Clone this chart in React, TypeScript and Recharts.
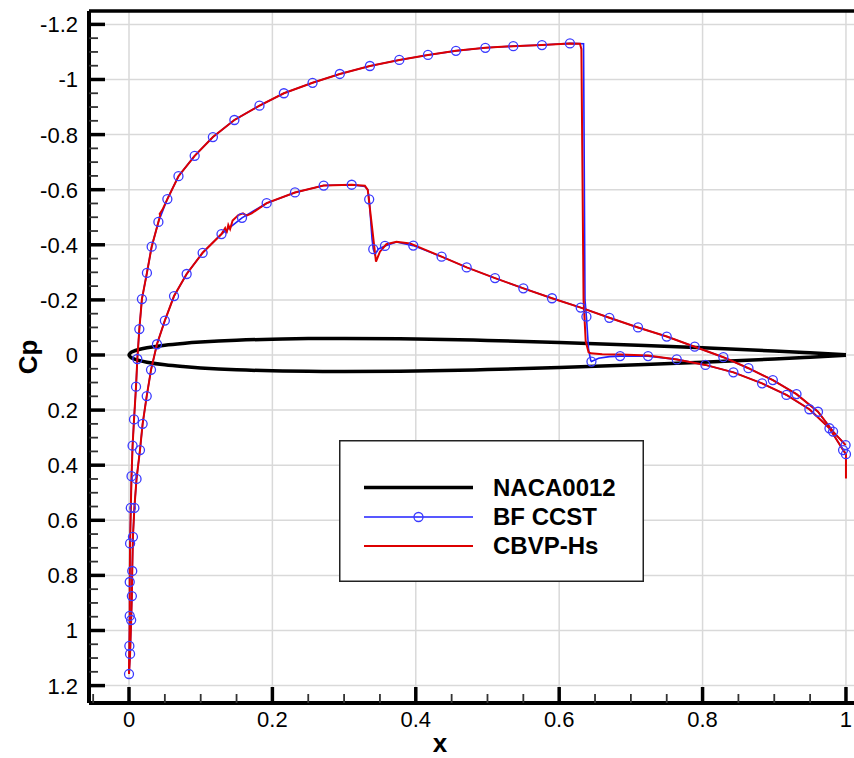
import { ComposedChart, Line, ReferenceLine, XAxis, YAxis } from "recharts";

// axis ranges
const X_DOMAIN: [number, number] = [-0.0558, 1.014];
const Y_DOMAIN: [number, number] = [-1.2486, 1.2632];

const xMajorTicks = [0, 0.2, 0.4, 0.6, 0.8, 1];
const xMinorTicks = [-0.05, 0.05, 0.1, 0.15, 0.25, 0.3, 0.35, 0.45, 0.5, 0.55, 0.65, 0.7, 0.75, 0.85, 0.9, 0.95];
const yMajorTicks = [-1.2, -1, -0.8, -0.6, -0.4, -0.2, 0, 0.2, 0.4, 0.6, 0.8, 1, 1.2];
const yMinorTicks = [
  -1.15, -1.1, -1.05, -0.95, -0.9, -0.85, -0.75, -0.7, -0.65, -0.55, -0.5, -0.45, -0.35, -0.3, -0.25, -0.15, -0.1,
  -0.05, 0.05, 0.1, 0.15, 0.25, 0.3, 0.35, 0.45, 0.5, 0.55, 0.65, 0.7, 0.75, 0.85, 0.9, 0.95, 1.05, 1.1, 1.15,
];

// NACA0012 contour (chord x, half thickness)
const nacaX = [0, 0.0025, 0.005, 0.0125, 0.025, 0.05, 0.075, 0.1, 0.15, 0.2, 0.25, 0.3, 0.4, 0.5, 0.6, 0.7, 0.8, 0.9, 0.95, 1];
const nacaHalf = [
  0, 0.0087, 0.0122, 0.0189, 0.0262, 0.0356, 0.042, 0.0468, 0.0535, 0.0574, 0.0594, 0.06, 0.058, 0.0529, 0.0456, 0.0366,
  0.0262, 0.0145, 0.0081, 0.0013,
];

// BF CCST, suction side (strong shock near x=0.63)
const ccstUpper: [number, number][] = [
  [0, 1.158], [0.0005, 1.056], [0.001, 0.947], [0.001, 0.824], [0.0015, 0.684], [0.0025, 0.555], [0.0035, 0.44],
  [0.005, 0.329], [0.007, 0.234], [0.0098, 0.115], [0.0116, 0.0145], [0.0144, -0.094], [0.018, -0.203],
  [0.025, -0.298], [0.0316, -0.393], [0.041, -0.483], [0.0535, -0.566], [0.069, -0.649], [0.0916, -0.723],
  [0.117, -0.791], [0.147, -0.853], [0.182, -0.905], [0.216, -0.95], [0.256, -0.988], [0.294, -1.02],
  [0.336, -1.049], [0.377, -1.071], [0.417, -1.089], [0.456, -1.104], [0.497, -1.115], [0.536, -1.121],
  [0.576, -1.125], [0.615, -1.131], [0.634, -1.13], [0.636, -0.2], [0.638, -0.139], [0.641, -0.02], [0.644, 0.02],
  [0.645, 0.024], [0.655, 0.012], [0.67, 0.006], [0.685, 0.004], [0.724, 0.004], [0.764, 0.016], [0.804, 0.036],
  [0.843, 0.063], [0.883, 0.103], [0.917, 0.145], [0.949, 0.197], [0.977, 0.266], [0.996, 0.345], [1, 0.36],
];
const ccstUpperMarks: [number, number][] = [
  [0, 1.158], [0.0005, 1.056], [0.001, 0.947], [0.001, 0.824], [0.0015, 0.684], [0.0025, 0.555], [0.0035, 0.44],
  [0.005, 0.329], [0.007, 0.234], [0.0098, 0.115], [0.0116, 0.0145], [0.0144, -0.094], [0.018, -0.203],
  [0.025, -0.298], [0.0316, -0.393], [0.041, -0.483], [0.0535, -0.566], [0.069, -0.649], [0.0916, -0.723],
  [0.117, -0.791], [0.147, -0.853], [0.182, -0.905], [0.216, -0.95], [0.256, -0.988], [0.294, -1.02],
  [0.336, -1.049], [0.377, -1.071], [0.417, -1.089], [0.456, -1.104], [0.497, -1.115], [0.536, -1.121],
  [0.576, -1.125], [0.615, -1.131], [0.638, -0.139], [0.645, 0.024], [0.685, 0.004], [0.724, 0.004],
  [0.764, 0.016], [0.804, 0.036], [0.843, 0.063], [0.883, 0.103], [0.917, 0.145], [0.949, 0.197], [0.977, 0.266],
  [0.996, 0.345], [1, 0.36],
];

// BF CCST, pressure side (weak shock near x=0.34)
const ccstLower: [number, number][] = [
  [0, 1.158], [0.0015, 1.085], [0.003, 0.962], [0.004, 0.875], [0.0045, 0.784], [0.0055, 0.66], [0.0075, 0.555],
  [0.0105, 0.45], [0.0153, 0.345], [0.019, 0.25], [0.0247, 0.149], [0.0307, 0.054], [0.039, -0.039], [0.05, -0.125],
  [0.0628, -0.214], [0.0804, -0.294], [0.1027, -0.371], [0.129, -0.439], [0.1576, -0.498], [0.192, -0.551],
  [0.2315, -0.59], [0.2715, -0.615], [0.3106, -0.618], [0.329, -0.612], [0.333, -0.6], [0.335, -0.565],
  [0.339, -0.42], [0.3407, -0.384], [0.343, -0.365], [0.348, -0.385], [0.357, -0.396], [0.373, -0.41],
  [0.3965, -0.397], [0.436, -0.357], [0.471, -0.318], [0.5105, -0.279], [0.55, -0.242], [0.59, -0.206],
  [0.63, -0.172], [0.67, -0.135], [0.71, -0.1], [0.75, -0.067], [0.789, -0.03], [0.829, 0.008], [0.864, 0.048],
  [0.898, 0.091], [0.931, 0.142], [0.961, 0.206], [0.982, 0.278], [0.9995, 0.327],
];
const ccstLowerMarks: [number, number][] = [
  [0.0015, 1.085], [0.003, 0.962], [0.004, 0.875], [0.0045, 0.784], [0.0055, 0.66], [0.0075, 0.555], [0.0105, 0.45],
  [0.0153, 0.345], [0.019, 0.25], [0.0247, 0.149], [0.0307, 0.054], [0.039, -0.039], [0.05, -0.125],
  [0.0628, -0.214], [0.0804, -0.294], [0.1027, -0.371], [0.129, -0.439], [0.1576, -0.498], [0.192, -0.551],
  [0.2315, -0.59], [0.2715, -0.615], [0.3106, -0.618], [0.335, -0.565], [0.3407, -0.384], [0.357, -0.396],
  [0.3965, -0.397], [0.436, -0.357], [0.471, -0.318], [0.5105, -0.279], [0.55, -0.242], [0.59, -0.206],
  [0.63, -0.172], [0.67, -0.135], [0.71, -0.1], [0.75, -0.067], [0.789, -0.03], [0.829, 0.008], [0.864, 0.048],
  [0.898, 0.091], [0.931, 0.142], [0.961, 0.206], [0.982, 0.278], [0.9995, 0.327],
];

// CBVP-Hs
const cbvpUpper: [number, number][] = [
  [0, 1.158], [0.0005, 1.056], [0.001, 0.947], [0.001, 0.824], [0.0015, 0.684], [0.0025, 0.555], [0.0035, 0.44],
  [0.005, 0.329], [0.007, 0.234], [0.0098, 0.115], [0.0116, 0.0145], [0.0144, -0.094], [0.018, -0.203],
  [0.025, -0.298], [0.0316, -0.393], [0.041, -0.483], [0.0435, -0.507], [0.0428, -0.512], [0.0465, -0.527],
  [0.0535, -0.566], [0.069, -0.649], [0.0916, -0.723], [0.117, -0.791], [0.147, -0.853], [0.182, -0.905],
  [0.216, -0.95], [0.256, -0.988], [0.294, -1.02], [0.336, -1.049], [0.377, -1.071], [0.417, -1.089],
  [0.456, -1.104], [0.497, -1.115], [0.536, -1.121], [0.576, -1.125], [0.615, -1.131], [0.629, -1.13],
  [0.631, -1.11], [0.634, -0.2], [0.637, -0.05], [0.641, -0.01], [0.644, -0.006], [0.66, -0.003], [0.685, -0.002],
  [0.724, 0.002], [0.764, 0.016], [0.804, 0.036], [0.843, 0.063], [0.883, 0.103], [0.917, 0.145], [0.949, 0.197],
  [0.977, 0.266], [0.996, 0.345], [1, 0.36], [1, 0.448],
];
const cbvpLower: [number, number][] = [
  [0, 1.158], [0.0015, 1.085], [0.003, 0.962], [0.004, 0.875], [0.0045, 0.784], [0.0055, 0.66], [0.0075, 0.555],
  [0.0105, 0.45], [0.0153, 0.345], [0.019, 0.25], [0.0247, 0.149], [0.0307, 0.054], [0.039, -0.039], [0.05, -0.125],
  [0.0628, -0.214], [0.0804, -0.294], [0.1027, -0.371], [0.129, -0.439], [0.134, -0.46], [0.136, -0.442],
  [0.1385, -0.472], [0.141, -0.457], [0.1445, -0.488], [0.1525, -0.508], [0.159, -0.514], [0.164, -0.506],
  [0.171, -0.514], [0.192, -0.551], [0.2315, -0.59], [0.2715, -0.615], [0.3106, -0.618], [0.329, -0.614],
  [0.333, -0.599], [0.3445, -0.339], [0.35, -0.375], [0.359, -0.402], [0.373, -0.411], [0.392, -0.405],
  [0.436, -0.357], [0.471, -0.318], [0.5105, -0.279], [0.55, -0.242], [0.59, -0.206], [0.63, -0.172],
  [0.67, -0.135], [0.71, -0.1], [0.75, -0.067], [0.789, -0.03], [0.829, 0.008], [0.864, 0.048], [0.898, 0.091],
  [0.931, 0.142], [0.961, 0.206], [0.982, 0.278], [0.9995, 0.327],
];

const PLOT_LEFT = 89;
const PLOT_BOTTOM = 703;
const FONT = "'Liberation Sans', Arial, Helvetica, sans-serif";
const GRID = "#d9d9d9";

const pts = (a: [number, number][]) => a.map(([x, cp]) => ({ x, cp }));

const nacaLoop = [
  ...nacaX.map((x, i) => ({ x, cp: -nacaHalf[i] })).reverse(),
  ...nacaX.map((x, i) => ({ x, cp: nacaHalf[i] })).slice(1),
];

const xTicks = [...xMinorTicks, ...xMajorTicks].sort((a, b) => a - b);
const yTicks = [...yMinorTicks, ...yMajorTicks].sort((a, b) => a - b);

function XTick(props: any) {
  const { x, payload } = props;
  const major = xMajorTicks.includes(payload.value);
  return (
    <g>
      <line
        x1={x}
        x2={x}
        y1={PLOT_BOTTOM}
        y2={PLOT_BOTTOM - (major ? 16 : 9)}
        stroke={major ? "#000" : "#333"}
        strokeWidth={major ? 3.5 : 1.8}
      />
      {major && (
        <text x={x} y={727} textAnchor="middle" fontSize={22} fontFamily={FONT} fill="#000">
          {String(payload.value)}
        </text>
      )}
    </g>
  );
}

function YTick(props: any) {
  const { y, payload } = props;
  const major = yMajorTicks.includes(payload.value);
  return (
    <g>
      <line
        x1={PLOT_LEFT}
        x2={PLOT_LEFT + (major ? 16 : 9)}
        y1={y}
        y2={y}
        stroke={major ? "#000" : "#333"}
        strokeWidth={major ? 3.5 : 1.8}
      />
      {major && (
        <text x={78} y={y + 8} textAnchor="end" fontSize={22} fontFamily={FONT} fill="#000">
          {String(payload.value)}
        </text>
      )}
    </g>
  );
}

function Legend() {
  return (
    <svg
      width={305}
      height={142}
      style={{ position: "absolute", left: 339, top: 440 }}
    >
      <rect x={0.75} y={0.75} width={303.5} height={140.5} fill="#fff" stroke="#222" strokeWidth={1.5} />
      <line x1={25} x2={134} y1={47.5} y2={47.5} stroke="#000" strokeWidth={3.5} />
      <line x1={25} x2={134} y1={77} y2={77} stroke="#2020ff" strokeWidth={1.5} />
      <circle cx={79.5} cy={77} r={4.5} fill="none" stroke="#3a3aff" strokeWidth={1.3} />
      <line x1={25} x2={134} y1={106} y2={106} stroke="#dd0000" strokeWidth={2} />
      <g fontFamily={FONT} fontSize={24} fontWeight="bold" fill="#000">
        <text x={154} y={55.5}>NACA0012</text>
        <text x={154} y={85}>BF CCST</text>
        <text x={154} y={114}>CBVP-Hs</text>
      </g>
    </svg>
  );
}

export default function App() {
  return (
    <div style={{ position: "absolute", left: 0, top: 0, width: 854, height: 758, overflow: "hidden", background: "#fff" }}>
      <ComposedChart width={860} height={758} margin={{ top: 11, right: 4, bottom: 15, left: 0 }}>
        <XAxis
          dataKey="x"
          type="number"
          domain={X_DOMAIN}
          allowDataOverflow
          ticks={xTicks}
          interval={0}
          height={40}
          tickLine={false}
          axisLine={{ stroke: "#000", strokeWidth: 4 }}
          tick={<XTick />}
          label={{
            content: () => (
              <text x={440} y={752} textAnchor="middle" fontSize={26} fontWeight="bold" fontFamily={FONT} fill="#000">
                x
              </text>
            ),
          }}
        />
        <YAxis
          dataKey="cp"
          type="number"
          reversed
          domain={Y_DOMAIN}
          allowDataOverflow
          ticks={yTicks}
          interval={0}
          width={89}
          tickLine={false}
          axisLine={{ stroke: "#000", strokeWidth: 4 }}
          tick={<YTick />}
          label={{
            content: () => (
              <text
                x={37}
                y={357}
                transform="rotate(-90 37 357)"
                textAnchor="middle"
                fontSize={26}
                fontWeight="bold"
                fontFamily={FONT}
                fill="#000"
              >
                Cp
              </text>
            ),
          }}
        />
        {xMajorTicks.map((v) => (
          <ReferenceLine key={`gx${v}`} x={v} stroke={GRID} strokeWidth={1.5} ifOverflow="visible" />
        ))}
        {yMajorTicks.map((v) => (
          <ReferenceLine key={`gy${v}`} y={v} stroke={GRID} strokeWidth={1.5} ifOverflow="visible" />
        ))}
        <ReferenceLine y={Y_DOMAIN[0]} stroke="#000" strokeWidth={3.5} ifOverflow="visible" />
        <ReferenceLine x={X_DOMAIN[1]} stroke="#000" strokeWidth={3.5} ifOverflow="visible" />

        <Line data={nacaLoop} dataKey="cp" name="NACA0012" type="natural" stroke="#000" strokeWidth={3.5}
          dot={false} activeDot={false} isAnimationActive={false} />
        <Line data={pts(ccstUpper)} dataKey="cp" name="BF CCST" type="linear" stroke="#2020ff" strokeWidth={1.6}
          dot={false} activeDot={false} isAnimationActive={false} />
        <Line data={pts(ccstLower)} dataKey="cp" name="BF CCST lower" type="linear" stroke="#2020ff" strokeWidth={1.6}
          dot={false} activeDot={false} isAnimationActive={false} />
        <Line data={pts(ccstUpperMarks)} dataKey="cp" name="BF CCST marks" stroke="none" strokeWidth={0}
          dot={{ r: 4.5, stroke: "#3a3aff", strokeWidth: 1.3, fill: "none" }} activeDot={false} isAnimationActive={false} />
        <Line data={pts(ccstLowerMarks)} dataKey="cp" name="BF CCST lower marks" stroke="none" strokeWidth={0}
          dot={{ r: 4.5, stroke: "#3a3aff", strokeWidth: 1.3, fill: "none" }} activeDot={false} isAnimationActive={false} />
        <Line data={pts(cbvpUpper)} dataKey="cp" name="CBVP-Hs" type="linear" stroke="#dd0000" strokeWidth={2}
          dot={false} activeDot={false} isAnimationActive={false} />
        <Line data={pts(cbvpLower)} dataKey="cp" name="CBVP-Hs lower" type="linear" stroke="#dd0000" strokeWidth={2}
          dot={false} activeDot={false} isAnimationActive={false} />
      </ComposedChart>
      <Legend />
    </div>
  );
}
